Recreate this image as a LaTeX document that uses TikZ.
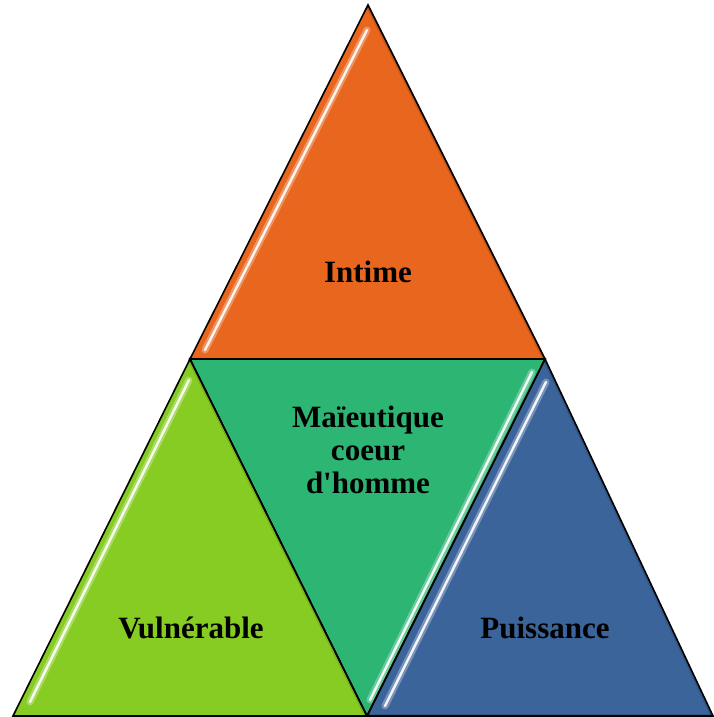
\documentclass[tikz,border=0pt]{standalone}
\usepackage{fontspec}
\setmainfont{Liberation Serif}[Ligatures=TeXOff]
\begin{document}
\begin{tikzpicture}[x=1pt,y=-1pt,
  tri/.style={draw=black,line width=1.6pt,line join=miter},
  gloss/.style={white,line width=2.4pt,line cap=round,opacity=0.9},
  glow/.style={white,line width=7pt,line cap=round,opacity=0.3},
  shade/.style={black,line width=5pt,opacity=0.12},
  lbl/.style={font=\bfseries\fontsize{31}{33}\selectfont,align=center,text=black}]
\useasboundingbox (0,0) rectangle (713,717);
\definecolor{orangeT}{HTML}{E8661E}
\definecolor{greenT}{HTML}{86CC22}
\definecolor{tealT}{HTML}{2DB574}
\definecolor{blueT}{HTML}{3B649B}

% corner points
\coordinate (apex) at (368,5);
\coordinate (ml) at (190,359);
\coordinate (mr) at (545,359);
\coordinate (bl) at (13,716);
\coordinate (bc) at (367,716);
\coordinate (br) at (713,716);

% faces
\fill[orangeT] (apex) -- (ml) -- (mr) -- cycle;
\fill[greenT] (ml) -- (bl) -- (bc) -- cycle;
\fill[tealT] (ml) -- (mr) -- (bc) -- cycle;
\fill[blueT] (mr) -- (bc) -- (br) -- cycle;

% soft shading on the far edges
\begin{scope}
  \clip (apex) -- (ml) -- (mr) -- cycle;
  \draw[shade] (apex) -- (mr);
\end{scope}
\begin{scope}
  \clip (mr) -- (bc) -- (br) -- cycle;
  \draw[shade] (mr) -- (br);
  \draw[shade] (bc) -- (br);
\end{scope}
\begin{scope}
  \clip (ml) -- (bl) -- (bc) -- cycle;
  \draw[shade] (ml) -- (bc);
\end{scope}

% glossy highlights
\coordinate (g1a) at (367,30);   \coordinate (g1b) at (205,350);
\coordinate (g2a) at (189,380);  \coordinate (g2b) at (30,702);
\coordinate (g3a) at (532,372);  \coordinate (g3b) at (370,700);
\coordinate (g4a) at (546,382);  \coordinate (g4b) at (385,706);
\draw[glow] (g1a) -- (g1b);
\draw[gloss] (g1a) -- (g1b);
\draw[glow] (g2a) -- (g2b);
\draw[gloss] (g2a) -- (g2b);
\draw[glow] (g3a) -- (g3b);
\draw[gloss] (g3a) -- (g3b);
\draw[glow] (g4a) -- (g4b);
\draw[gloss] (g4a) -- (g4b);

% outlines
\draw[tri] (apex) -- (ml) -- (mr) -- cycle;
\draw[tri] (ml) -- (bl) -- (bc) -- cycle;
\draw[tri] (mr) -- (bc) -- (br) -- cycle;
\draw[tri] (ml) -- (mr) -- (bc) -- cycle;

% labels
\node[lbl] (intime) at (368,272) {Intime};
\node[lbl] (coeur) at (368,450) {Maïeutique\\coeur\\d'homme};
\node[lbl] (vuln) at (191,628) {Vulnérable};
\node[lbl] (puis) at (545,628) {Puissance};
\end{tikzpicture}
\end{document}
